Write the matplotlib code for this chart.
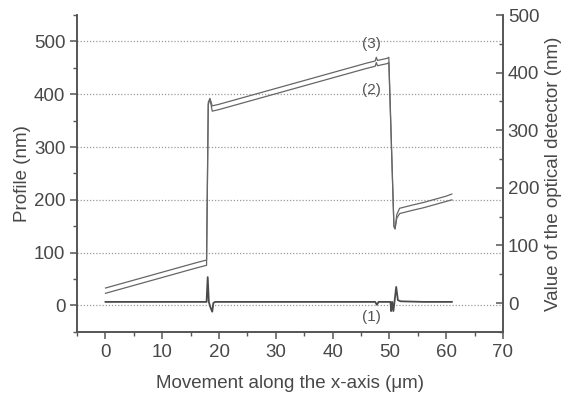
import matplotlib
matplotlib.use("Agg")
import matplotlib.pyplot as plt
from matplotlib.ticker import MultipleLocator

plt.rcParams['font.family'] = ['Liberation Sans', 'DejaVu Sans']

# Surface profile, lower trace (2), in nm
x_lower = [0, 2, 4, 6, 8, 10, 12, 14, 16, 17.8, 18.1, 18.4, 18.8, 20, 22, 24, 26, 28,
           30, 32, 34, 36, 38, 40, 42, 44, 46, 47.5, 47.7, 47.9, 49.6, 49.9, 50.8,
           51.0, 51.3, 51.8, 54, 56, 58, 60, 61]
y_lower = [23, 29, 35, 41, 47, 53, 59, 65, 71, 76, 380, 391, 368, 371, 377, 383, 389, 395,
           401, 407, 413, 419, 425, 431, 437, 443, 449, 453, 460, 454, 458, 460, 150,
           145, 165, 174, 180, 185, 191, 197, 200]

# Surface profile, upper trace (3), in nm
x_upper = [0, 2, 4, 6, 8, 10, 12, 14, 16, 17.8, 18.1, 18.4, 18.8, 20, 22, 24, 26, 28,
           30, 32, 34, 36, 38, 40, 42, 44, 46, 47.5, 47.7, 47.9, 49.6, 49.9, 50.8,
           51.0, 51.3, 51.8, 54, 56, 58, 60, 61]
y_upper = [33, 39, 45, 51, 57, 63, 69, 75, 81, 86, 385, 392, 378, 381, 387, 393, 399, 405,
           411, 417, 423, 429, 435, 441, 447, 453, 459, 463, 470, 464, 468, 470, 150,
           145, 172, 184, 190, 195, 201, 207, 211]

# Optical detector signal (1), in nm
x_det = [0, 5, 10, 15, 17.8, 18.0, 18.2, 18.5, 18.8, 19.0, 19.3, 25, 30, 35, 40, 45,
         47.5, 47.8, 48.1, 50.2, 50.3, 50.5, 50.7, 50.9, 51.2, 51.5, 52, 56, 61]
y_det = [2, 2, 2, 2, 2, 45, 2, -8, -15, 0, 2, 2, 2, 2, 2, 2,
         2, -3, 2, 2, -14, 2, -14, 2, 28, 5, 3, 2, 2]

fig = plt.figure(figsize=(5.67, 3.96), dpi=100)
ax = fig.add_axes([0.136, 0.162, 0.751, 0.800])
ax2 = ax.twinx()

line_col = '#666666'
ax.plot(x_lower, y_lower, color=line_col, lw=0.9)
ax.plot(x_upper, y_upper, color=line_col, lw=0.9)
ax2.plot(x_det, y_det, color='#4a4a4a', lw=1.3)

ax.set_xlim(-5, 70)
ax.set_ylim(-50, 550)
ax2.set_ylim(-50, 500)

ax.xaxis.set_minor_locator(MultipleLocator(5))
ax.yaxis.set_minor_locator(MultipleLocator(50))
ax2.yaxis.set_major_locator(MultipleLocator(100))
ax2.yaxis.set_minor_locator(MultipleLocator(50))
ax.set_xticks([0, 10, 20, 30, 40, 50, 60, 70])
ax.set_yticks([0, 100, 200, 300, 400, 500])

for y in [0, 100, 200, 300, 400, 500]:
    ax.axhline(y, color='#9a9a9a', lw=0.9, ls=(0, (1, 1.5)), zorder=0)

spine_col = '#555555'
text_col = '#484848'
for a in (ax, ax2):
    a.spines['top'].set_visible(False)
    for s in a.spines.values():
        s.set_color(spine_col)
        s.set_linewidth(1.2)

ax.tick_params(axis='both', which='major', direction='out', length=5, width=1.1,
               colors=spine_col, labelcolor=text_col, labelsize=13.5)
ax.tick_params(axis='both', which='minor', direction='out', length=3, width=1.0,
               colors=spine_col)
ax2.tick_params(axis='y', which='major', direction='in', length=5, width=1.1,
                colors=spine_col, labelcolor=text_col, labelsize=13.5)
ax2.tick_params(axis='y', which='minor', direction='in', length=3, width=1.0,
                colors=spine_col)

ax.set_xlabel('Movement along the x-axis (μm)', fontsize=13.5, color=text_col, labelpad=10)
ax.set_ylabel('Profile (nm)', fontsize=13.5, color=text_col, labelpad=2)
ax2.set_ylabel('Value of the optical detector (nm)', fontsize=13.5, color=text_col, labelpad=4)

ax.text(46.9, 495, '(3)', ha='center', va='center', fontsize=11, color='#555555')
ax.text(46.9, 408, '(2)', ha='center', va='center', fontsize=11, color='#555555')
ax.text(46.9, -22, '(1)', ha='center', va='center', fontsize=11, color='#555555')

fig.savefig('out.png', dpi=100)
